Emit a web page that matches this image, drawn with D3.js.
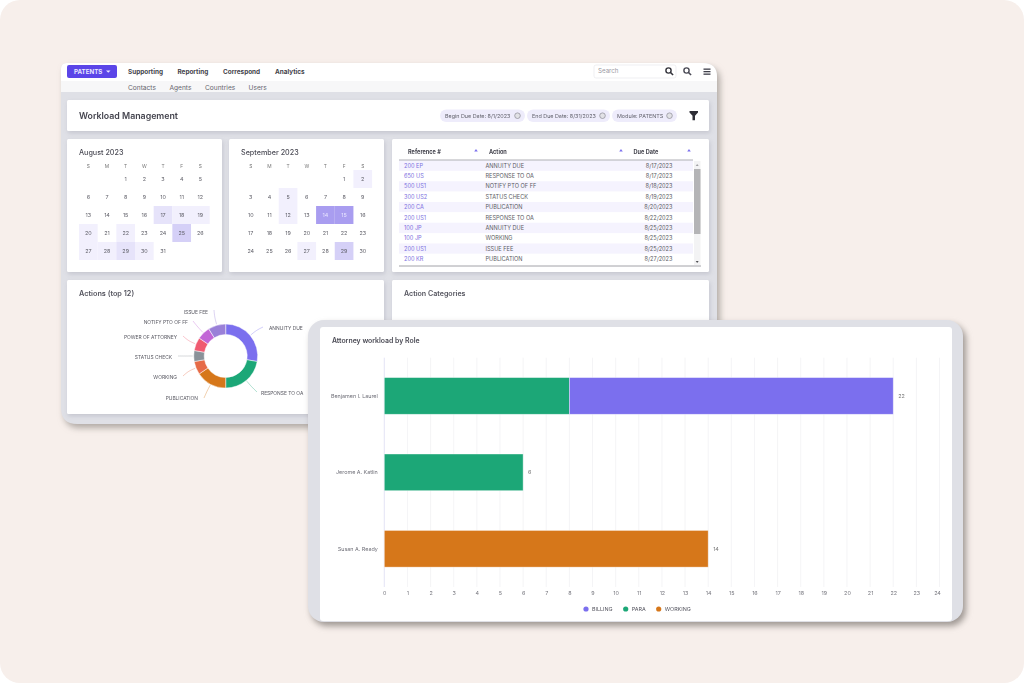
<!DOCTYPE html>
<html>
<head>
<meta charset="utf-8">
<script src="https://cdn.jsdelivr.net/npm/d3@7"></script>
<style>
html, body { margin: 0; padding: 0; background: #fff; overflow: hidden; }
svg { display: block; filter: blur(0.55px); }
text { font-family: Inter, "Noto Sans", sans-serif; }
</style>
</head>
<body>
<script>
//nav and filter text
var navMain = ["Supporting", "Reporting", "Correspond", "Analytics"];
var navSub = ["Contacts", "Agents", "Countries", "Users"];
var chips = ["Begin Due Date: 8/1/2023", "End Due Date: 8/31/2023", "Module: PATENTS"];

//calendars: highlighted day -> shade level
var weekDays = ["S", "M", "T", "W", "T", "F", "S"];
var augustDays = d3.range(1, 32);
var septemberDays = d3.range(1, 31);
var augustHeat = {17: 2, 18: 1, 19: 1, 20: 1, 22: 1, 25: 3, 27: 1, 28: 1, 29: 2, 30: 1};
var septemberHeat = {2: 1, 5: 1, 12: 1, 14: 4, 15: 4, 27: 1, 29: 3};

//table
var tableRefs = ["200 EP", "650 US", "500 US1", "300 US2", "200 CA", "200 US1", "100 JP", "100 JP", "200 US1", "200 KR"];
var tableActions = ["ANNUITY DUE", "RESPONSE TO OA", "NOTIFY PTO OF FF", "STATUS CHECK", "PUBLICATION", "RESPONSE TO OA", "ANNUITY DUE", "WORKING", "ISSUE FEE", "PUBLICATION"];
var tableDates = ["8/17/2023", "8/17/2023", "8/18/2023", "8/19/2023", "8/20/2023", "8/22/2023", "8/25/2023", "8/25/2023", "8/25/2023", "8/27/2023"];

//donut
var donutNames = ["ANNUITY DUE", "RESPONSE TO OA", "PUBLICATION", "WORKING", "STATUS CHECK", "POWER OF ATTORNEY", "NOTIFY PTO OF FF", "ISSUE FEE"];
var donutValues = [12.5, 10, 7, 3, 2.5, 3, 3, 4];

//stacked bars
var attorneys = ["Benjamen I. Laurel", "Jerome A. Katlin", "Susan A. Ready"];
var billing = [14, 0, 0];
var para = [8, 6, 0];
var working = [0, 0, 14];
var barTotals = [22, 6, 14];
var legendRoles = ["BILLING", "PARA", "WORKING"];

//colors
var purple = "#7b6fee", green = "#1ca777", orange = "#d6771a";
var donutColors = [purple, green, orange, "#e66b47", "#8a9299", "#f05a70", "#c266d6", "#9a80d8"];
var heatColors = ["#fff", "#f2f0fd", "#e6e3fa", "#d5d0f7", "#a99df0"];
var roleColors = {BILLING: purple, PARA: green, WORKING: orange};

window.onload = function(){

    var w = 1024, h = 683;
    var svg = d3.select("body").append("svg")
        .attr("width", w)
        .attr("height", h);

    var defs = svg.append("defs");
    defs.append("clipPath").attr("id", "frontClip")
        .append("rect")
        .attr("x", 308).attr("y", 320).attr("width", 655).attr("height", 302).attr("rx", 16);
    defs.append("clipPath").attr("id", "backClip")
        .append("path")
        .attr("d", "M67,63 H703 Q717,63 717,77 V424 H77 Q61,424 61,408 V69 Q61,63 67,63 Z");

    //page background
    svg.append("rect")
        .attr("width", w).attr("height", h).attr("rx", 20)
        .style("fill", "#f7efeb");

    //---- back window ----
    svg.append("path")
        .attr("d", "M67,63 H703 Q717,63 717,77 V424 H77 Q61,424 61,408 V69 Q61,63 67,63 Z")
        .style("fill", "#dfe0e6")
        .style("filter", "drop-shadow(3px 4px 3px rgba(120,115,110,0.55))");

    var back = svg.append("g").attr("clip-path", "url(#backClip)");

    back.append("rect").attr("x", 61).attr("y", 63).attr("width", 656).attr("height", 18).style("fill", "#fff");
    back.append("rect").attr("x", 61).attr("y", 81).attr("width", 656).attr("height", 11).style("fill", "#f7f7f8");

    //nav button
    back.append("rect")
        .attr("x", 67).attr("y", 65).attr("width", 50).attr("height", 13).attr("rx", 2)
        .style("fill", "#5b45e8");
    back.append("text")
        .attr("x", 74).attr("y", 73.5)
        .style("font-size", "6.2px").style("font-weight", 700).style("fill", "#e8e5ff")
        .text("PATENTS");
    back.append("path").attr("d", "M106,70.5 h4.5 l-2.25,2.2 z").style("fill", "#e8e5ff");

    var navMainScale = d3.scaleOrdinal().domain(navMain).range([128, 177.5, 223, 275]);
    back.selectAll(".navMain")
        .data(navMain)
        .enter()
        .append("text")
        .attr("class", "navMain")
        .attr("x", function(d){ return navMainScale(d); })
        .attr("y", 73.8)
        .style("font-size", "6.4px").style("font-weight", 700).style("fill", "#3f3f4a")
        .text(function(d){ return d; });

    var navSubScale = d3.scaleOrdinal().domain(navSub).range([128, 169.5, 205, 248.5]);
    back.selectAll(".navSub")
        .data(navSub)
        .enter()
        .append("text")
        .attr("class", "navSub")
        .attr("x", function(d){ return navSubScale(d); })
        .attr("y", 89.5)
        .style("font-size", "6.6px").style("fill", "#66666f")
        .text(function(d){ return d; });

    //search box and icons
    back.append("rect")
        .attr("x", 594).attr("y", 65).attr("width", 82).attr("height", 13).attr("rx", 2)
        .style("fill", "#fff").style("stroke", "#e8e8ec").style("stroke-width", 0.7);
    back.append("text")
        .attr("x", 598).attr("y", 73.3)
        .style("font-size", "6.2px").style("fill", "#9a9aa2")
        .text("Search");
    [[668.5, "#33333b"], [686.5, "#4a4a55"]].forEach(function(icon){
        back.append("circle")
            .attr("cx", icon[0]).attr("cy", 70.5).attr("r", 2.6)
            .style("fill", "none").style("stroke", icon[1]).style("stroke-width", 1.4);
        back.append("line")
            .attr("x1", icon[0] + 2).attr("y1", 72.5)
            .attr("x2", icon[0] + 4.6).attr("y2", 75)
            .style("stroke", icon[1]).style("stroke-width", 1.6);
    });
    [68.5, 71, 73.5].forEach(function(y){
        back.append("rect")
            .attr("x", 703.5).attr("y", y).attr("width", 7).attr("height", 1.3)
            .style("fill", "#3f3f4a");
    });

    //white cards
    function card(parent, x, y, cw, ch){
        return parent.append("rect")
            .attr("x", x).attr("y", y).attr("width", cw).attr("height", ch).attr("rx", 1.5)
            .style("fill", "#fff")
            .style("filter", "drop-shadow(1px 2px 2px rgba(150,150,165,0.35))");
    }
    card(back, 67, 100, 642, 31);
    card(back, 67, 139, 155, 133);
    card(back, 229, 139, 155, 133);
    card(back, 392, 139, 317, 133);
    card(back, 67, 280, 317, 134);
    card(back, 392, 280, 317, 134);

    back.append("text")
        .attr("x", 79).attr("y", 119)
        .style("font-size", "8.8px").style("font-weight", 600).style("fill", "#44444e")
        .text("Workload Management");

    //filter chips
    var chipX = d3.scaleOrdinal().domain(chips).range([440, 527, 612]);
    var chipW = d3.scaleOrdinal().domain(chips).range([85, 83, 65]);
    var chipG = back.selectAll(".chip")
        .data(chips)
        .enter()
        .append("g")
        .attr("class", "chip")
        .attr("transform", function(d){ return "translate(" + chipX(d) + ",109.5)"; });
    chipG.append("rect")
        .attr("width", function(d){ return chipW(d); })
        .attr("height", 12.5).attr("rx", 6.2)
        .style("fill", "#eeecfb");
    chipG.append("text")
        .attr("x", 5).attr("y", 8.2)
        .style("font-size", "5.4px").style("fill", "#63636d")
        .text(function(d){ return d; });
    chipG.append("circle")
        .attr("cx", function(d){ return chipW(d) - 7.5; })
        .attr("cy", 6.2).attr("r", 2.8)
        .style("fill", "#e2e2e6").style("stroke", "#8a8a92").style("stroke-width", 0.7);

    back.append("path")
        .attr("d", "M689.5,111 h8.5 v1.5 l-3,3.2 v4.5 h-2.5 v-4.5 l-3,-3.2 z")
        .style("fill", "#2e2e36");

    //---- calendars ----
    function drawCalendar(title, days, heat, firstDay, left, cardX){
        var x = d3.scaleBand().domain(d3.range(7)).range([left, left + 18.67 * 7]);
        var y = d3.scaleBand().domain(d3.range(5)).range([170, 260]);
        var g = back.append("g");

        g.append("text")
            .attr("x", cardX + 12).attr("y", 154.8)
            .style("font-size", "7.2px").style("font-weight", 500).style("fill", "#4c4c56")
            .text(title);

        g.selectAll(".wd")
            .data(weekDays)
            .enter()
            .append("text")
            .attr("x", function(d, i){ return x(i) + x.bandwidth() / 2; })
            .attr("y", 167.5)
            .attr("text-anchor", "middle")
            .style("font-size", "4.8px").style("fill", "#777")
            .text(function(d){ return d; });

        function col(d){ return (d - 1 + firstDay) % 7; }
        function row(d){ return Math.floor((d - 1 + firstDay) / 7); }

        g.selectAll(".cell")
            .data(days.filter(function(d){ return heat[d]; }))
            .enter()
            .append("rect")
            .attr("x", function(d){ return x(col(d)); })
            .attr("y", function(d){ return y(row(d)); })
            .attr("width", x.bandwidth())
            .attr("height", y.bandwidth())
            .style("fill", function(d){ return heatColors[heat[d]]; });

        g.selectAll(".day")
            .data(days)
            .enter()
            .append("text")
            .attr("x", function(d){ return x(col(d)) + x.bandwidth() / 2; })
            .attr("y", function(d){ return y(row(d)) + y.bandwidth() / 2 + 2; })
            .attr("text-anchor", "middle")
            .style("font-size", "5.4px")
            .style("fill", function(d){ return heat[d] == 4 ? "#e9e6ff" : "#5f5f68"; })
            .text(function(d){ return d; });
    }
    drawCalendar("August 2023", augustDays, augustHeat, 2, 79, 67);
    drawCalendar("September 2023", septemberDays, septemberHeat, 5, 241.4, 229);

    //---- table ----
    var rowY = d3.scaleBand().domain(d3.range(tableRefs.length)).range([160.5, 264.2]);
    var tableRows = back.selectAll(".row")
        .data(tableRefs)
        .enter()
        .append("g")
        .attr("class", "row")
        .attr("transform", function(d, i){ return "translate(0," + rowY(i) + ")"; });
    tableRows.append("rect")
        .attr("x", 399).attr("width", 294).attr("height", rowY.bandwidth())
        .style("fill", function(d, i){ return i % 2 == 0 ? "#f5f3fe" : "#fff"; });
    tableRows.append("text")
        .attr("x", 404).attr("y", 7.2)
        .style("font-size", "5.6px").style("fill", "#7b6fe0")
        .text(function(d){ return d; });
    tableRows.append("text")
        .attr("x", 485.5).attr("y", 7.2)
        .style("font-size", "5.6px").style("fill", "#5a5a63")
        .text(function(d, i){ return tableActions[i]; });
    tableRows.append("text")
        .attr("x", 672.5).attr("y", 7.2)
        .attr("text-anchor", "end")
        .style("font-size", "5.6px").style("fill", "#5a5a63")
        .text(function(d, i){ return tableDates[i]; });

    var tableHead = [["Reference #", 408, 476], ["Action", 489, 621], ["Due Date", 633.5, 689]];
    tableHead.forEach(function(t){
        back.append("text")
            .attr("x", t[1]).attr("y", 154)
            .style("font-size", "5.6px").style("font-weight", 700).style("fill", "#44444e")
            .text(t[0]);
        back.append("path")
            .attr("d", "M" + (t[2] - 1.8) + ",151.5 h3.6 l-1.8,-2.6 z")
            .style("fill", "#7b6fee");
    });
    back.append("line").attr("x1", 399).attr("x2", 693).attr("y1", 160).attr("y2", 160)
        .style("stroke", "#9a9aa2").style("stroke-width", 0.8);
    back.append("line").attr("x1", 399).attr("x2", 701).attr("y1", 266).attr("y2", 266)
        .style("stroke", "#8a8a92").style("stroke-width", 0.8);
    back.append("rect").attr("x", 694).attr("y", 161).attr("width", 6.5).attr("height", 104).style("fill", "#f3f3f4");
    back.append("rect").attr("x", 694).attr("y", 169).attr("width", 6.5).attr("height", 65).style("fill", "#b4b4b6");
    back.append("path").attr("d", "M695.7,166 h3 l-1.5,-2 z").style("fill", "#a0a0a4");
    back.append("path").attr("d", "M695.7,261 h3 l-1.5,2 z").style("fill", "#505054");

    //---- donut ----
    back.append("text")
        .attr("x", 79).attr("y", 296)
        .style("font-size", "7.3px").style("font-weight", 600).style("fill", "#55555f")
        .text("Actions (top 12)");
    back.append("text")
        .attr("x", 404).attr("y", 296)
        .style("font-size", "7.1px").style("font-weight", 600).style("fill", "#55555f")
        .text("Action Categories");

    var donutCx = 225.7, donutCy = 356;
    var pie = d3.pie().sort(null).value(function(d){ return d; });
    var arc = d3.arc().innerRadius(21.5).outerRadius(32);
    var slices = pie(donutValues);
    var donut = back.append("g").attr("transform", "translate(" + donutCx + "," + donutCy + ")");

    donut.selectAll(".slice")
        .data(slices)
        .enter()
        .append("path")
        .attr("class", "slice")
        .attr("d", arc)
        .style("fill", function(d, i){ return donutColors[i]; })
        .style("stroke", "#fff").style("stroke-width", 0.5);

    //where each leader line ends on the page, and which side the label sits
    var leaderEnds = [[263, 327], [257, 392], [204, 398], [183, 376], [178, 356], [183, 336], [193, 321], [214, 310]];
    var labelAnchor = ["start", "start", "end", "end", "end", "end", "end", "end"];
    var labelShift = [[6, 1], [4, 1], [-6, 0], [-6, 1], [-6, 1], [-6, 1], [-5, 1], [-6, 2]];
    var leaderCurve = d3.line().curve(d3.curveBasis);

    donut.selectAll(".leader")
        .data(slices)
        .enter()
        .append("path")
        .attr("class", "leader")
        .attr("d", function(d, i){
            var mid = (d.startAngle + d.endAngle) / 2;
            var sx = Math.sin(mid) * 33, sy = -Math.cos(mid) * 33;
            var ex = leaderEnds[i][0] - donutCx, ey = leaderEnds[i][1] - donutCy;
            var bx = Math.sin(mid) * 40, by = -Math.cos(mid) * 40;
            return leaderCurve([[sx, sy], [bx, by], [ex, ey]]);
        })
        .style("fill", "none")
        .style("stroke", function(d, i){ return donutColors[i]; })
        .style("stroke-opacity", 0.5)
        .style("stroke-width", 0.7);

    donut.selectAll(".sliceLabel")
        .data(donutNames)
        .enter()
        .append("text")
        .attr("class", "sliceLabel")
        .attr("x", function(d, i){ return leaderEnds[i][0] - donutCx + labelShift[i][0]; })
        .attr("y", function(d, i){ return leaderEnds[i][1] - donutCy + labelShift[i][1] + 2; })
        .attr("text-anchor", function(d, i){ return labelAnchor[i]; })
        .style("font-size", "4.9px").style("fill", "#5a5a63")
        .text(function(d){ return d; });

    //---- front card ----
    svg.append("rect")
        .attr("x", 308).attr("y", 320).attr("width", 655).attr("height", 302).attr("rx", 16)
        .style("fill", "#dfe0e6")
        .style("filter", "drop-shadow(3px 4px 3px rgba(110,105,100,0.65))");

    var front = svg.append("g").attr("clip-path", "url(#frontClip)");
    front.append("rect")
        .attr("x", 320).attr("y", 327).attr("width", 632).attr("height", 294).attr("rx", 3)
        .style("fill", "#fff");

    front.append("text")
        .attr("x", 332).attr("y", 343)
        .style("font-size", "6.9px").style("font-weight", 600).style("fill", "#4a4a54")
        .text("Attorney workload by Role");

    var x = d3.scaleLinear().domain([0, 24]).range([384.3, 939.5]);
    var y = d3.scaleBand().domain(attorneys).range([357.7, 587]).paddingInner(0.52).paddingOuter(0.26);

    //grid
    var xTicks = d3.range(0, 25);
    front.selectAll(".grid")
        .data(xTicks)
        .enter()
        .append("line")
        .attr("class", "grid")
        .attr("x1", function(d){ return x(d); })
        .attr("x2", function(d){ return x(d); })
        .attr("y1", 357.7)
        .attr("y2", 587)
        .style("stroke", function(d){ return d == 0 ? "#dcdcf2" : "#f1f1f4"; })
        .style("stroke-width", 0.8);

    //stacked bars, green sits first then purple
    var stackRows = attorneys.map(function(a, i){
        return {name: a, PARA: para[i], BILLING: billing[i], WORKING: working[i]};
    });
    var stack = d3.stack().keys(["PARA", "BILLING", "WORKING"]);
    var layers = front.selectAll(".layer")
        .data(stack(stackRows))
        .enter()
        .append("g")
        .attr("class", "layer")
        .style("fill", function(d){ return roleColors[d.key]; });
    layers.selectAll("rect")
        .data(function(d){ return d.filter(function(s){ return s[1] > s[0]; }); })
        .enter()
        .append("rect")
        .attr("x", function(d){ return x(d[0]); })
        .attr("y", function(d){ return y(d.data.name); })
        .attr("width", function(d){ return x(d[1]) - x(d[0]); })
        .attr("height", y.bandwidth())
        .style("stroke", "#fff")
        .style("stroke-opacity", 0.55)
        .style("stroke-width", 0.7);

    //totals at bar ends
    front.selectAll(".total")
        .data(barTotals)
        .enter()
        .append("text")
        .attr("class", "total")
        .attr("x", function(d){ return x(d) + 5; })
        .attr("y", function(d, i){ return y(attorneys[i]) + y.bandwidth() / 2 + 2; })
        .style("font-size", "5.4px").style("fill", "#777")
        .text(function(d){ return d; });

    //axes
    var xAxis = d3.axisBottom(x).tickValues(xTicks).tickSize(0).tickPadding(0);
    var xG = front.append("g").attr("transform", "translate(0,591.5)").call(xAxis);
    xG.select(".domain").remove();
    xG.selectAll("text")
        .attr("dy", "0.71em")
        .attr("dx", function(d){ return d == 24 ? -2.5 : 0; })
        .style("font-family", "Inter, sans-serif").style("font-size", "5.4px").style("fill", "#77777f");

    var yAxis = d3.axisLeft(y).tickSize(0).tickPadding(6.5);
    var yG = front.append("g").attr("transform", "translate(384.3,0)").call(yAxis);
    yG.select(".domain").remove();
    yG.selectAll("text")
        .style("font-family", "Inter, sans-serif").style("font-size", "5.4px").style("fill", "#6f6f78");

    //legend
    var legendX = d3.scaleOrdinal().domain(legendRoles).range([586, 625.7, 658.7]);
    var legend = front.selectAll(".legend")
        .data(legendRoles)
        .enter()
        .append("g")
        .attr("class", "legend")
        .attr("transform", function(d){ return "translate(" + legendX(d) + ",609)"; });
    legend.append("circle")
        .attr("r", 2.6)
        .style("fill", function(d){ return roleColors[d]; });
    legend.append("text")
        .attr("x", 6).attr("y", 2)
        .style("font-size", "5.4px").style("fill", "#55555f")
        .text(function(d){ return d; });
};
</script>
</body>
</html>
